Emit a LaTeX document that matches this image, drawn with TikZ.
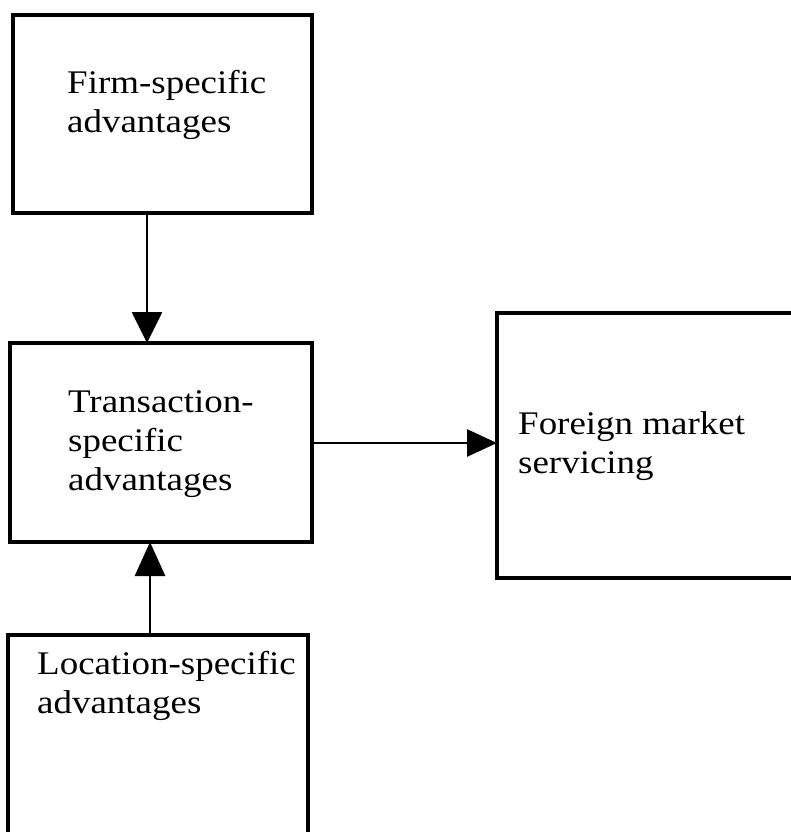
\documentclass[tikz,border=0pt]{standalone}
\usepackage{fontspec}
\setmainfont{Liberation Serif}[FakeStretch=1.12]
\usetikzlibrary{arrows.meta}
\tikzset{
  boxnode/.style={draw, line width=3.4pt, rectangle, inner sep=0pt, outer sep=0pt},
  labeltext/.style={anchor=base west, align=left, inner sep=0pt, font={\fontsize{33}{39}\selectfont}},
  conn/.style={line width=2.8pt},
}
\begin{document}
\begin{tikzpicture}[x=1pt,y=-1pt]
\useasboundingbox (0,0) rectangle (790,832);
% boxes
\node[boxnode, minimum width=299pt, minimum height=198pt] (firm) at (162.5,114) {};
\node[boxnode, minimum width=302pt, minimum height=199pt] (trans) at (161,442.5) {};
\node[boxnode, minimum width=303pt, minimum height=265pt] (foreign) at (648.5,445.5) {};
\node[boxnode, minimum width=300pt, minimum height=210pt] (loc) at (158,740) {};
% texts (base anchor = baseline of last line)
\node[labeltext] (tfirm) at (67,132) {Firm-specific\\advantages};
\node[labeltext] (ttrans) at (68,490) {Transaction-\\specific\\advantages};
\node[labeltext] (tforeign) at (518,473) {Foreign market\\servicing};
\node[labeltext] (tloc) at (37,713) {Location-specific\\advantages};
% connectors
\coordinate (xa) at (147,0);
\coordinate (xb) at (150,0);
\coordinate (ya) at (0,443);
\draw[conn, -{Triangle[length=31pt,width=30pt]}] (firm.south -| xa) -- (trans.north -| xa);
\draw[conn, -{Triangle[length=30pt,width=27pt]}] (trans.east |- ya) -- (foreign.west |- ya);
\draw[conn, -{Triangle[length=34pt,width=30pt]}] (loc.north -| xb) -- (trans.south -| xb);
\end{tikzpicture}
\end{document}
